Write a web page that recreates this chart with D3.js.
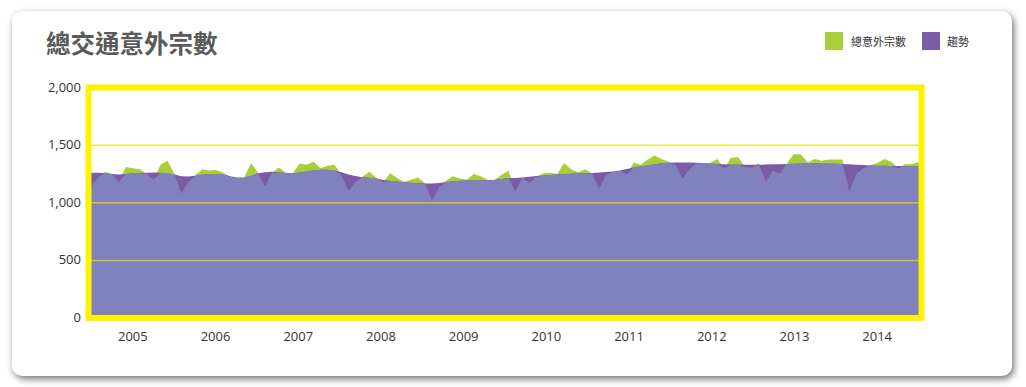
<!DOCTYPE html>
<html><head><meta charset="utf-8">
<script src="https://cdn.jsdelivr.net/npm/d3@7"></script>
<style>
html,body{margin:0;padding:0;background:#fff;}
#card{position:absolute;left:12px;top:11px;width:1000px;height:365px;background:#fff;border-radius:10px;box-shadow:2px 3px 7px rgba(0,0,0,0.55);}
svg{position:absolute;left:0;top:0;}
</style></head><body>
<div id="card"></div>
<svg id="chart" width="1026" height="387"></svg>
<script>
const title = "總交通意外宗數";
const seriesNames = ["總意外宗數", "趨勢"];
const years = ["2005","2006","2007","2008","2009","2010","2011","2012","2013","2014"];
const months = years.flatMap(yy => ["01","02","03","04","05","06","07","08","09","10","11","12"].map(m => yy + "-" + m));
const yTicks = [0, 500, 1000, 1500, 2000];

const total = [
 1140,1220,1270,1250,1180,1310,1300,1290,1250,1200,1330,1365,
 1250,1080,1180,1240,1290,1280,1285,1260,1225,1215,1215,1345,
 1260,1140,1260,1305,1260,1255,1340,1330,1355,1300,1320,1330,
 1240,1100,1180,1225,1270,1220,1180,1255,1215,1180,1200,1220,
 1170,1020,1130,1190,1230,1210,1200,1250,1230,1200,1200,1240,
 1280,1100,1220,1170,1225,1255,1260,1250,1345,1290,1265,1290,
 1255,1120,1240,1265,1275,1245,1350,1330,1375,1410,1380,1355,
 1330,1210,1290,1340,1345,1345,1380,1300,1390,1395,1310,1305,
 1345,1180,1280,1250,1340,1420,1420,1350,1380,1365,1375,1375,
 1375,1100,1250,1300,1325,1345,1380,1355,1300,1335,1335,1355
];
const trend = [
 1260,1260,1255,1250,1245,1250,1255,1258,1260,1262,1260,1255,
 1245,1230,1228,1235,1245,1250,1250,1245,1230,1220,1220,1235,
 1255,1265,1268,1265,1258,1255,1262,1272,1282,1286,1286,1280,
 1265,1245,1232,1222,1218,1210,1198,1190,1184,1178,1174,1170,
 1168,1168,1172,1180,1186,1190,1192,1194,1195,1196,1198,1205,
 1215,1215,1220,1226,1232,1237,1240,1245,1250,1252,1255,1257,
 1259,1262,1266,1272,1280,1292,1305,1315,1325,1335,1342,1348,
 1350,1350,1350,1348,1345,1340,1336,1334,1332,1331,1330,1330,
 1330,1331,1333,1335,1337,1339,1341,1342,1342,1341,1340,1338,
 1336,1333,1330,1327,1324,1322,1320,1319,1318,1317,1316,1316
];

const colors = {total:"#a8cf38", trend:"#7c5ba6", overlap:"#8181bd", border:"#fff200", grid:"#e6dc00", text:"#333"};

const svg = d3.select("#chart");
const pL = 88.5, pR = 921.5, pT = 87.5, pB = 318;

const x = d3.scaleLinear().domain([0, months.length - 1]).range([pL + 2.5, pR - 2.5]);
const xYear = d3.scaleBand().domain(years).range([pL + 3, pR - 3]);
const y = d3.scaleLinear().domain([0, 2000]).range([pB, pT]);

const data = months.map((m, i) => ({m, i, total: total[i], trend: trend[i]}));

svg.append("defs").append("clipPath").attr("id","clip")
  .append("rect").attr("x", pL).attr("y", pT).attr("width", pR-pL).attr("height", pB-pT);

const g = svg.append("g").attr("clip-path","url(#clip)");
const areaOf = acc => d3.area().x(d => x(d.i)).y0(y(0)).y1(d => y(acc(d)));
g.append("path").datum(data).attr("fill", colors.total).attr("d", areaOf(d => d.total));
g.append("path").datum(data).attr("fill", colors.trend).attr("d", areaOf(d => d.trend));
g.append("path").datum(data).attr("fill", colors.overlap).attr("d", areaOf(d => Math.min(d.total, d.trend)));

// gridlines
svg.append("g").selectAll("line").data(yTicks.filter(t => t > 0 && t < 2000)).join("line")
  .attr("x1", pL).attr("x2", pR).attr("y1", d => y(d)).attr("y2", d => y(d))
  .attr("stroke", colors.grid).attr("stroke-opacity", 0.75).attr("stroke-width", 1.5);

// border
svg.append("rect").attr("x", pL).attr("y", pT).attr("width", pR-pL).attr("height", pB-pT)
  .attr("fill","none").attr("stroke", colors.border).attr("stroke-width", 6);

// axes
const yAxis = d3.axisLeft(y).tickValues(yTicks).tickFormat(d3.format(",")).tickSize(0).tickPadding(0);
const ya = svg.append("g").attr("transform", "translate(81,-1)").call(yAxis);
ya.select(".domain").remove();
ya.selectAll("text").attr("font-family","'Open Sans', sans-serif").attr("font-size","13px").attr("fill", colors.text).attr("dy","0.35em");

const xAxis = d3.axisBottom(xYear).tickSize(0).tickPadding(0);
const xa = svg.append("g").attr("transform", "translate(0,332)").call(xAxis);
xa.select(".domain").remove();
xa.selectAll("text").attr("font-family","'Open Sans', sans-serif").attr("font-size","13px").attr("fill", colors.text).attr("dy","0.71em");

// title
svg.append("text").attr("x", 46).attr("y", 53).text(title)
  .attr("font-family","'Noto Sans CJK TC', sans-serif").attr("font-weight","bold").attr("font-size","24.5px").attr("fill","#5a5a5a");

// legend
const legend = [
  {name: seriesNames[0], color: colors.total, x: 825, tx: 851},
  {name: seriesNames[1], color: colors.trend, x: 922, tx: 947}
];
const lg = svg.append("g");
lg.selectAll("rect").data(legend).join("rect")
  .attr("x", d => d.x).attr("y", 32).attr("width", 18).attr("height", 18).attr("fill", d => d.color);
lg.selectAll("text").data(legend).join("text")
  .attr("x", d => d.tx).attr("y", 42).attr("dy","0.35em").text(d => d.name)
  .attr("font-family","'Noto Sans CJK TC', sans-serif").attr("font-size","11px").attr("fill","#333");
</script>
</body></html>
